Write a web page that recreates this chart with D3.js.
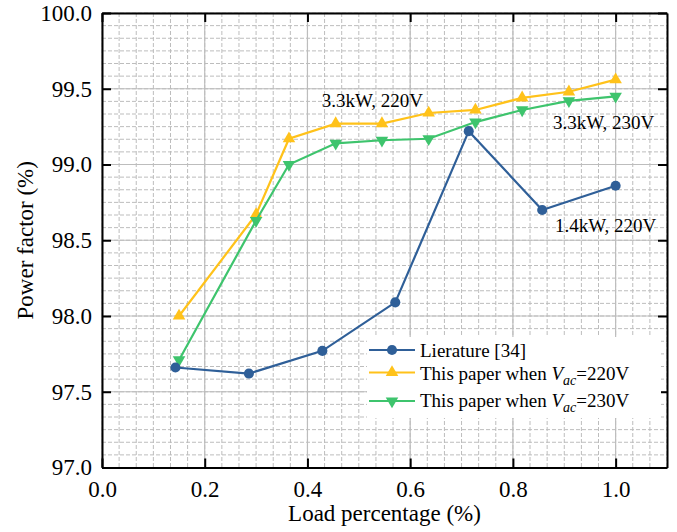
<!DOCTYPE html>
<html>
<head>
<meta charset="utf-8">
<script src="https://cdn.jsdelivr.net/npm/d3@7"></script>
<style>
  body { margin: 0; background: #fff; }
  svg text { font-family: "Liberation Serif", "Times New Roman", serif; fill: #000; }
</style>
</head>
<body>
<svg id="chart"></svg>
<script>
// data
const litX = [0.143, 0.286, 0.429, 0.571, 0.714, 0.857, 1.0];
const litY = [97.66, 97.62, 97.77, 98.09, 99.22, 98.70, 98.86];

const paperX = [0.15, 0.30, 0.364, 0.455, 0.545, 0.636, 0.727, 0.818, 0.909, 1.0];
const v220Y = [98.00, 98.67, 99.17, 99.27, 99.27, 99.34, 99.36, 99.44, 99.48, 99.56];
const v230Y = [97.71, 98.63, 99.00, 99.14, 99.16, 99.17, 99.28, 99.36, 99.42, 99.45];

const xTicks = [0, 0.2, 0.4, 0.6, 0.8, 1.0];
const yTicks = [97.0, 97.5, 98.0, 98.5, 99.0, 99.5, 100.0];

const legendNames = ["Lierature [34]", "This paper when ", "This paper when "];
const legendVolts = ["", "=220V", "=230V"];

const notes = [
  { text: "3.3kW, 220V", x: 0.428, y: 99.381 },
  { text: "3.3kW, 230V", x: 0.878, y: 99.232 },
  { text: "1.4kW, 220V", x: 0.882, y: 98.556 },
];

const width = 677;
const height = 532;
const plotLeft = 102, plotRight = 667, plotTop = 13, plotBottom = 467.5;

const blue = "#2f5f98";
const yellow = "#ffc21a";
const green = "#3ec46d";

const svg = d3.select("#chart").attr("width", width).attr("height", height);

const x = d3.scaleLinear().domain([0, 1.1]).range([plotLeft, plotRight]);
const y = d3.scaleLinear().domain([97, 100]).range([plotBottom, plotTop]);

// grid, minor dashed then major solid
const minorX = d3.range(0, 1.1 + 1e-9, 0.2 / 6);
const minorY = d3.range(97, 100 + 1e-9, 0.5 / 6);
const grid = svg.append("g");
grid.selectAll(".mx").data(minorX).enter().append("line")
  .attr("x1", (d) => x(d)).attr("x2", (d) => x(d))
  .attr("y1", plotTop).attr("y2", plotBottom)
  .attr("stroke", "#bdbdbd").attr("stroke-width", 1).attr("stroke-dasharray", "4,2");
grid.selectAll(".my").data(minorY).enter().append("line")
  .attr("y1", (d) => y(d)).attr("y2", (d) => y(d))
  .attr("x1", plotLeft).attr("x2", plotRight)
  .attr("stroke", "#bdbdbd").attr("stroke-width", 1).attr("stroke-dasharray", "4,2");
grid.selectAll(".Mx").data(xTicks).enter().append("line")
  .attr("x1", (d) => x(d)).attr("x2", (d) => x(d))
  .attr("y1", plotTop).attr("y2", plotBottom)
  .attr("stroke", "#bdbdbd").attr("stroke-width", 1.2);
grid.selectAll(".My").data(yTicks).enter().append("line")
  .attr("y1", (d) => y(d)).attr("y2", (d) => y(d))
  .attr("x1", plotLeft).attr("x2", plotRight)
  .attr("stroke", "#bdbdbd").attr("stroke-width", 1.2);

// series
const drawSeries = (xs, ys, color, symbol, rotate) => {
  const pts = xs.map((d, i) => [d, ys[i]]);
  svg.append("path")
    .datum(pts)
    .attr("fill", "none")
    .attr("stroke", color)
    .attr("stroke-width", 2.2)
    .attr("d", d3.line().x((d) => x(d[0])).y((d) => y(d[1])));
  svg.append("g").selectAll("path").data(pts).enter().append("path")
    .attr("d", symbol)
    .attr("fill", color)
    .attr("transform", (d) => "translate(" + x(d[0]) + "," + y(d[1]) + ") rotate(" + rotate + ")");
};

const circleSym = d3.symbol().type(d3.symbolCircle).size(80)();
const triSym = d3.symbol().type(d3.symbolTriangle).size(68)();

drawSeries(paperX, v220Y, yellow, triSym, 0);
drawSeries(paperX, v230Y, green, triSym, 180);
drawSeries(litX, litY, blue, circleSym, 0);

// axes, ticks inward
const axisStyle = (g) => {
  g.select(".domain").attr("stroke", "#000").attr("stroke-width", 2);
  g.selectAll(".tick line").attr("stroke", "#000").attr("stroke-width", 2);
  g.selectAll(".tick text").style("font-size", "23px")
    .style("font-family", '"Liberation Serif", "Times New Roman", serif');
};

svg.append("g")
  .attr("transform", "translate(0," + plotBottom + ")")
  .call(d3.axisBottom(x).tickValues(xTicks).tickFormat(d3.format(".1f"))
    .tickSizeInner(-9).tickSizeOuter(0).tickPadding(13))
  .call(axisStyle);

svg.append("g")
  .attr("transform", "translate(" + plotLeft + ",0)")
  .call(d3.axisLeft(y).tickValues(yTicks).tickFormat(d3.format(".1f"))
    .tickSizeInner(-9).tickSizeOuter(0).tickPadding(10))
  .call(axisStyle);

svg.append("g")
  .attr("transform", "translate(0," + plotTop + ")")
  .call(d3.axisTop(x).tickValues(xTicks).tickFormat("").tickSizeInner(-9).tickSizeOuter(0))
  .call(axisStyle);

svg.append("g")
  .attr("transform", "translate(" + plotRight + ",0)")
  .call(d3.axisRight(y).tickValues(yTicks).tickFormat("").tickSizeInner(-9).tickSizeOuter(0))
  .call(axisStyle);

// axis titles
svg.append("text")
  .attr("x", (plotLeft + plotRight) / 2).attr("y", 521)
  .attr("text-anchor", "middle").style("font-size", "23px")
  .text("Load percentage (%)");

svg.append("text")
  .attr("transform", "translate(33," + (plotTop + plotBottom) / 2 + ") rotate(-90)")
  .attr("text-anchor", "middle").style("font-size", "23px")
  .text("Power factor (%)");

// annotations
svg.selectAll(".note").data(notes).enter().append("text")
  .attr("x", (d) => x(d.x)).attr("y", (d) => y(d.y))
  .style("font-size", "19px")
  .text((d) => d.text);

// legend
const legend = svg.append("g");
legend.append("rect")
  .attr("x", 367).attr("y", 337).attr("width", 294).attr("height", 81)
  .attr("fill", "#fff");

const rowLine = [350, 372.5, 401];
const rowBase = [356.7, 380, 407.3];
const rowColor = [blue, yellow, green];
const rowSym = [circleSym, triSym, triSym];
const rowRot = [0, 0, 180];

legendNames.forEach((name, i) => {
  legend.append("line")
    .attr("x1", 369).attr("x2", 415).attr("y1", rowLine[i]).attr("y2", rowLine[i])
    .attr("stroke", rowColor[i]).attr("stroke-width", 2.2);
  legend.append("path")
    .attr("d", rowSym[i]).attr("fill", rowColor[i])
    .attr("transform", "translate(392," + rowLine[i] + ") rotate(" + rowRot[i] + ")");
  const t = legend.append("text")
    .attr("x", 420).attr("y", rowBase[i]).style("font-size", "19px");
  t.append("tspan").text(name);
  if (i > 0) {
    t.append("tspan").style("font-style", "italic").text("V");
    t.append("tspan").style("font-style", "italic").style("font-size", "14px")
      .attr("dy", 5).text("ac");
    t.append("tspan").attr("dy", -5).text(legendVolts[i]);
  }
});
</script>
</body>
</html>
